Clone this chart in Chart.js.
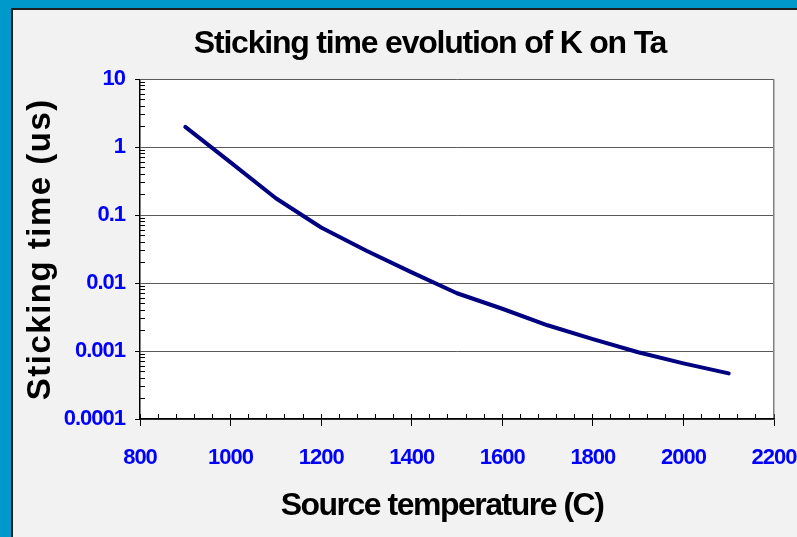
<!DOCTYPE html>
<html>
<head>
<meta charset="utf-8">
<title>Sticking time evolution of K on Ta</title>
<script src="https://cdn.jsdelivr.net/npm/chart.js@4.4.1/dist/chart.umd.min.js"></script>
<style>
  html, body { margin: 0; padding: 0; }
  body { width: 797px; height: 537px; overflow: hidden; background: #0099CC; position: relative; }
  #frame {
    position: absolute; left: 11px; top: 8px;
    width: 834px; height: 527px;
    background: #F2F2F2;
    border-left: 2px solid #1e1e1e; border-top: 2px solid #1e1e1e;
  }
  #chartBox { position: relative; width: 834px; height: 527px; }
</style>
</head>
<body>
<div id="frame"><div id="chartBox"><canvas id="chart"></canvas></div></div>
<script>
// Source temperature (C) and sticking time of K on Ta (microseconds)
const temperatures  = [900, 1000, 1100, 1200, 1300, 1400, 1500, 1600, 1700, 1800, 1900, 2000, 2100];
const stickingTimes = [2.0, 0.60, 0.178, 0.066, 0.030, 0.0144, 0.0071, 0.0042, 0.0024, 0.0015, 0.00096, 0.00066, 0.00047];

// Axis ticks
const xTickValues = [800, 1000, 1200, 1400, 1600, 1800, 2000, 2200];
const xTickLabels = ['800', '1000', '1200', '1400', '1600', '1800', '2000', '2200'];
const yTickValues = [0.0001, 0.001, 0.01, 0.1, 1, 10];
const yTickLabels = ['0.0001', '0.001', '0.01', '0.1', '1', '10'];

const X_MIN = 800, X_MAX = 2200, X_MINOR_STEP = 40;
const Y_MIN = 0.0001, Y_MAX = 10;

const tickFont = { family: "'Liberation Sans', Arial, sans-serif", size: 22, weight: 'bold' };
const titleFont = { family: "'Liberation Sans', Arial, sans-serif", size: 32, weight: 'bold' };

// minor tick positions: every 40 degrees, and 2..9 within each decade
const xMinorTicks = [];
for (let v = X_MIN; v <= X_MAX; v += X_MINOR_STEP) xMinorTicks.push({ value: v });
const yMinorTicks = [];
for (let e = -4; e <= 0; e++) {
  for (let m = 2; m <= 9; m++) yMinorTicks.push({ value: +(m * Math.pow(10, e)).toPrecision(3) });
}

// white plot area
const plotBackground = {
  id: 'plotBackground',
  beforeDraw(chart) {
    const { ctx, chartArea: a } = chart;
    ctx.save();
    ctx.fillStyle = '#FFFFFF';
    ctx.fillRect(a.left, a.top, a.right - a.left, a.bottom - a.top);
    ctx.restore();
  }
};

// tighter / looser lettering for the titles and tick labels
const lettering = {
  id: 'lettering',
  beforeDraw(chart) {
    const wrap = (obj, method, spacing, dx) => {
      if (!obj || obj[method].$wrapped) return;
      const orig = obj[method];
      const fn = function (...args) {
        const ctx = this.ctx;
        ctx.save();
        ctx.letterSpacing = spacing;
        if (dx) ctx.translate(dx, 0);
        orig.apply(this, args);
        ctx.restore();
      };
      fn.$wrapped = true;
      obj[method] = fn;
    };
    wrap(chart.titleBlock, 'draw', '-1.2px');
    wrap(chart.scales.x, 'drawLabels', '-1px');
    wrap(chart.scales.x, 'drawTitle', '-1.5px', -15);
    wrap(chart.scales.y, 'drawLabels', '-1px');
    wrap(chart.scales.y, 'drawTitle', '1.5px');
  }
};

new Chart(document.getElementById('chart'), {
  type: 'line',
  data: {
    labels: temperatures,
    datasets: [{
      data: temperatures.map((t, i) => ({ x: t, y: stickingTimes[i] })),
      xAxisID: 'x',
      yAxisID: 'y',
      borderColor: '#000080',
      borderWidth: 4,
      borderCapStyle: 'round',
      borderJoinStyle: 'round',
      pointRadius: 0,
      tension: 0,
      fill: false
    }]
  },
  options: {
    responsive: true,
    maintainAspectRatio: false,
    animation: false,
    devicePixelRatio: 1,
    layout: { padding: 0 },
    plugins: {
      legend: { display: false },
      tooltip: { enabled: false },
      title: {
        display: true,
        text: 'Sticking time evolution of K on Ta',
        color: '#000000',
        font: titleFont,
        padding: { top: 15, bottom: 16 }
      }
    },
    scales: {
      y: {
        axis: 'y',
        type: 'logarithmic',
        position: 'left',
        weight: 1,
        min: Y_MIN,
        max: Y_MAX,
        afterBuildTicks: (s) => { s.ticks = yTickValues.map(v => ({ value: v, major: true })); },
        afterFit: (s) => { s.width = 127; },
        ticks: {
          autoSkip: false,
          color: '#0000FF',
          font: tickFont,
          padding: 10,
          callback: (v, i) => yTickLabels[i]
        },
        grid: { color: '#5a5a5a', lineWidth: 1, tickColor: '#000000', tickLength: 5 },
        border: { color: '#000000', width: 1.5 },
        title: {
          display: true,
          text: 'Sticking time (us)',
          color: '#000000',
          font: { family: "'Liberation Sans', Arial, sans-serif", size: 33, weight: 'bold' },
          padding: { top: 8, bottom: 0 }
        }
      },
      yMinor: {
        axis: 'y',
        type: 'logarithmic',
        position: 'left',
        weight: 0,
        min: Y_MIN,
        max: Y_MAX,
        afterBuildTicks: (s) => { s.ticks = yMinorTicks.slice(); },
        afterFit: (s) => { s.width = 0; },
        ticks: { display: false, autoSkip: false },
        grid: { drawOnChartArea: false, tickColor: '#000000', tickLength: -5 },
        border: { display: false }
      },
      frame: {
        axis: 'y',
        type: 'linear',
        position: 'right',
        min: 0,
        max: 1,
        afterFit: (s) => { s.width = 73; },
        ticks: { display: false },
        grid: { display: false },
        border: { color: '#808080', width: 1.5 }
      },
      x: {
        axis: 'x',
        type: 'linear',
        position: 'bottom',
        weight: 1,
        min: X_MIN,
        max: X_MAX,
        afterBuildTicks: (s) => { s.ticks = xTickValues.map(v => ({ value: v, major: true })); },
        afterFit: (s) => { s.height = 118; },
        ticks: {
          autoSkip: false,
          maxRotation: 0,
          color: '#0000FF',
          font: tickFont,
          padding: 19,
          callback: (v, i) => xTickLabels[i]
        },
        grid: { drawOnChartArea: false, tickColor: '#000000', tickLength: 7 },
        border: { color: '#000000', width: 1.5 },
        title: {
          display: true,
          text: 'Source temperature (C)',
          color: '#000000',
          font: titleFont,
          padding: { top: 0, bottom: 12 }
        }
      },
      xMinor: {
        axis: 'x',
        type: 'linear',
        position: 'bottom',
        weight: 0,
        min: X_MIN,
        max: X_MAX,
        afterBuildTicks: (s) => { s.ticks = xMinorTicks.slice(); },
        afterFit: (s) => { s.height = 0; },
        ticks: { display: false, autoSkip: false },
        grid: { drawOnChartArea: false, tickColor: '#000000', tickLength: -5 },
        border: { display: false }
      }
    }
  },
  plugins: [plotBackground, lettering]
});
</script>
</body>
</html>
